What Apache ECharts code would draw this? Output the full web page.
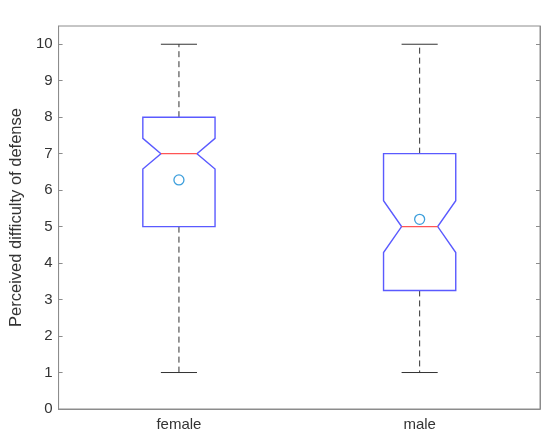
<!DOCTYPE html>
<html>
<head>
<meta charset="utf-8">
<script src="https://cdn.jsdelivr.net/npm/echarts@6/dist/echarts.min.js"></script>
<style>html,body{margin:0;padding:0;background:#fff;}#c{width:550px;height:440px;}</style>
</head>
<body>
<div id="c"></div>
<script>
const categories = ['female', 'male'];
const whiskerLow = [1, 1];
const q1 = [5, 3.25];
const notchLow = [6.58, 4.29];
const median = [7, 5];
const notchHigh = [7.42, 5.71];
const q3 = [8, 7];
const whiskerHigh = [10, 10];
const means = [6.28, 5.2];
const yTicks = [0, 1, 2, 3, 4, 5, 6, 7, 8, 9, 10];

const boxData = categories.map((c, i) => [i, whiskerLow[i], q1[i], notchLow[i], median[i], notchHigh[i], q3[i], whiskerHigh[i]]);
const meanData = categories.map((c, i) => [i, means[i]]);

const axisColor = '#8c8c8c';
const textColor = '#333333';
const font = 'Liberation Sans, Arial, Helvetica, sans-serif';

function renderBox(params, api) {
  const ci = api.value(0);
  const band = api.size([1, 0])[0];
  const hw = band * 0.15;
  const nw = band * 0.075;
  const cw = band * 0.075;
  const P = v => api.coord([ci, v]);
  const lo = P(api.value(1)), b1 = P(api.value(2)), n1 = P(api.value(3)), md = P(api.value(4)),
        n2 = P(api.value(5)), b3 = P(api.value(6)), hi = P(api.value(7));
  const x = md[0];
  const blue = '#5a5aff';
  const whiskerStyle = {stroke: '#333', lineWidth: 1, lineDash: [6, 4]};
  return {
    type: 'group',
    children: [
      {type: 'line', shape: {x1: x, y1: b3[1], x2: x, y2: hi[1]}, style: whiskerStyle},
      {type: 'line', shape: {x1: x, y1: b1[1], x2: x, y2: lo[1]}, style: whiskerStyle},
      {type: 'line', shape: {x1: x - cw, y1: hi[1], x2: x + cw, y2: hi[1]}, style: {stroke: '#333', lineWidth: 1}},
      {type: 'line', shape: {x1: x - cw, y1: lo[1], x2: x + cw, y2: lo[1]}, style: {stroke: '#333', lineWidth: 1}},
      {type: 'polygon', shape: {points: [
        [x - hw, b3[1]], [x + hw, b3[1]], [x + hw, n2[1]], [x + nw, md[1]], [x + hw, n1[1]],
        [x + hw, b1[1]], [x - hw, b1[1]], [x - hw, n1[1]], [x - nw, md[1]], [x - hw, n2[1]]
      ]}, style: {stroke: blue, fill: 'none', lineWidth: 1.4}},
      {type: 'line', shape: {x1: x - nw, y1: md[1], x2: x + nw, y2: md[1]}, style: {stroke: '#ff5555', lineWidth: 1.4}}
    ]
  };
}

const chart = echarts.init(document.getElementById('c'), null, {renderer: 'canvas'});
chart.setOption({
  animation: false,
  backgroundColor: '#fff',
  grid: {left: 57, right: 10, top: 26, bottom: 31, show: true, borderColor: axisColor, borderWidth: 1},
  xAxis: [{
    type: 'category', data: categories, boundaryGap: true,
    axisLine: {lineStyle: {color: axisColor}},
    axisTick: {inside: true, alignWithLabel: true, length: 4, lineStyle: {color: axisColor}},
    axisLabel: {color: textColor, fontSize: 15, fontFamily: font, margin: 8},
    splitLine: {show: false}
  }, {
    type: 'category', data: categories, boundaryGap: true, position: 'top',
    axisLine: {lineStyle: {color: axisColor}},
    axisTick: {inside: true, alignWithLabel: true, length: 4, lineStyle: {color: axisColor}},
    axisLabel: {show: false}, splitLine: {show: false}
  }],
  yAxis: [{
    type: 'value', min: 0, max: 10.5, interval: 1,
    name: 'Perceived difficulty of defense', nameLocation: 'middle', nameGap: 27, nameRotate: 90,
    nameTextStyle: {color: textColor, fontSize: 16.5, fontFamily: font},
    axisLine: {show: true, lineStyle: {color: axisColor}},
    axisTick: {show: true, inside: true, length: 4, customValues: yTicks, lineStyle: {color: axisColor}},
    axisLabel: {color: textColor, fontSize: 15, fontFamily: font, margin: 6, customValues: yTicks},
    splitLine: {show: false}
  }, {
    type: 'value', min: 0, max: 10.5, interval: 1, position: 'right',
    axisLine: {show: true, lineStyle: {color: axisColor}},
    axisTick: {show: true, inside: true, length: 4, customValues: yTicks, lineStyle: {color: axisColor}},
    axisLabel: {show: false}, splitLine: {show: false}
  }],
  series: [{
    type: 'custom', renderItem: renderBox, data: boxData,
    encode: {x: 0, y: [1, 2, 3, 4, 5, 6, 7]}
  }, {
    type: 'scatter', data: meanData, symbol: 'circle', symbolSize: 10, z: 5,
    itemStyle: {color: 'rgba(255,255,255,0)', borderColor: '#3d9fdc', borderWidth: 1.3, opacity: 1}
  }]
});
</script>
</body>
</html>
